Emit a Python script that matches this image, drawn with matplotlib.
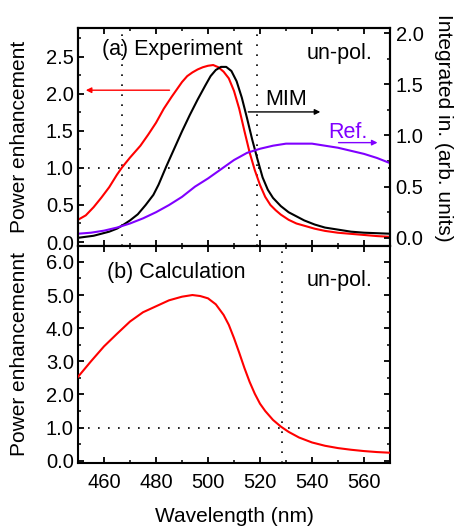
#!/usr/bin/env python3

import numpy as np
import matplotlib.pyplot as plt
from matplotlib.ticker import MultipleLocator, FormatStrFormatter

# ─── GLOBAL STYLE SETTINGS ────────────────────────────────────────────────
plt.rcParams.update({
    "font.family":       ["Liberation Sans", "DejaVu Sans"],
    "font.size":         15,
    "axes.linewidth":    1.5,
    "xtick.direction":   "in",
    "ytick.direction":   "in",
    "xtick.major.size":  4.5,
    "ytick.major.size":  4.5,
    "xtick.minor.size":  2.5,
    "ytick.minor.size":  2.5,
    "xtick.major.width": 1.3,
    "ytick.major.width": 1.3,
    "xtick.minor.width": 1.1,
    "ytick.minor.width": 1.1,
    "xtick.labelsize":   14.5,
    "ytick.labelsize":   14.5,
})

RED = "#ff0000"
PURPLE = "#8000ff"

# ─── DATA ─────────────────────────────────────────────────────────────────
# (a) measured power enhancement (left axis)
wl_enh = [450, 453, 456, 459, 462, 465, 467, 470, 474, 477, 480, 483, 486,
          488, 490, 492, 494, 496, 498, 500, 502, 504, 506, 508, 510, 512,
          514, 516, 518, 520, 522, 524, 526, 528, 531, 534, 537, 541, 545,
          550, 555, 560, 565, 570]
enh_exp = [0.30, 0.36, 0.47, 0.60, 0.74, 0.91, 1.01, 1.14, 1.30, 1.45, 1.61,
           1.80, 1.96, 2.06, 2.16, 2.24, 2.29, 2.33, 2.36, 2.38, 2.39, 2.36,
           2.30, 2.21, 2.04, 1.80, 1.50, 1.21, 0.97, 0.77, 0.61, 0.50, 0.43,
           0.37, 0.30, 0.25, 0.22, 0.18, 0.15, 0.125, 0.11, 0.095, 0.08, 0.07]

# (a) integrated intensity of MIM structure (right axis)
wl_mim = [450, 453, 456, 459, 462, 465, 467, 470, 473, 476, 479, 481, 484,
          487, 490, 493, 496, 499, 501, 503, 505, 507, 509, 511, 513, 515,
          517, 519, 521, 523, 525, 528, 531, 534, 537, 541, 545, 550, 555,
          560, 565, 570]
int_mim = [0.00, 0.01, 0.02, 0.04, 0.06, 0.09, 0.12, 0.17, 0.23, 0.32, 0.42,
           0.52, 0.70, 0.87, 1.04, 1.20, 1.35, 1.49, 1.58, 1.64, 1.67, 1.67,
           1.63, 1.53, 1.37, 1.17, 0.96, 0.77, 0.59, 0.47, 0.39, 0.31, 0.25,
           0.21, 0.17, 0.13, 0.10, 0.08, 0.06, 0.05, 0.045, 0.04]

# (a) integrated intensity of reference (right axis)
wl_ref = [450, 455, 460, 465, 470, 475, 480, 485, 490, 495, 500, 505, 510,
          515, 520, 525, 530, 535, 540, 545, 550, 555, 560, 565, 570]
int_ref = [0.04, 0.05, 0.07, 0.10, 0.14, 0.19, 0.25, 0.32, 0.40, 0.50, 0.58,
           0.67, 0.76, 0.83, 0.87, 0.90, 0.92, 0.92, 0.92, 0.90, 0.88, 0.85,
           0.82, 0.78, 0.73]

# (b) calculated power enhancement
wl_calc = [450, 455, 460, 465, 470, 475, 480, 485, 490, 494, 497, 500, 503,
           506, 508, 510, 512, 514, 516, 518, 520, 522, 525, 528, 531, 535,
           540, 545, 550, 555, 560, 565, 570]
enh_calc = [2.53, 3.00, 3.45, 3.83, 4.20, 4.48, 4.66, 4.84, 4.95, 5.00, 4.97,
            4.90, 4.72, 4.40, 4.10, 3.70, 3.26, 2.80, 2.38, 2.02, 1.72, 1.50,
            1.23, 1.03, 0.87, 0.70, 0.55, 0.45, 0.38, 0.33, 0.29, 0.26, 0.24]

# guide lines
vlines_a = [467, 519]
vline_b = 528.4

# ─── FIGURE ───────────────────────────────────────────────────────────────
fig = plt.figure(figsize=(4.55, 5.28), dpi=100)
W, H = 455, 528
ax_a = fig.add_axes([78 / W, 1 - 246 / H, 312 / W, 218 / H])
ax_b = fig.add_axes([78 / W, 1 - 463 / H, 312 / W, 217 / H], sharex=ax_a)
ax_r = ax_a.twinx()

dot = dict(color="black", lw=1.2, linestyle=(0, (1, 5)))

# ─── (a) EXPERIMENT ──────────────────────────────────────────────────────
ax_a.plot(wl_enh, enh_exp, color=RED, lw=1.5, zorder=3)
ax_r.plot(wl_mim, int_mim, color="black", lw=1.5)
ax_r.plot(wl_ref, int_ref, color=PURPLE, lw=1.5)
for x in vlines_a:
    ax_a.axvline(x, **dot)
ax_a.axhline(1.0, **dot)

ax_a.set_xlim(450, 570)
ax_a.set_ylim(-0.054, 2.89)
ax_r.set_ylim(-0.08, 2.05)
ax_a.yaxis.set_major_locator(MultipleLocator(0.5))
ax_a.yaxis.set_minor_locator(MultipleLocator(0.25))
ax_r.yaxis.set_major_locator(MultipleLocator(0.5))
ax_r.yaxis.set_minor_locator(MultipleLocator(0.25))
ax_a.yaxis.set_major_formatter(FormatStrFormatter("%.1f"))
ax_r.yaxis.set_major_formatter(FormatStrFormatter("%.1f"))
ax_a.tick_params(which="both", top=True, right=False, labelbottom=False,
                 pad=3)
ax_r.tick_params(which="both", pad=4)

ax_a.set_ylabel("Power enhancement")
ax_a.yaxis.set_label_coords(-0.156, 0.5)
ax_r.set_ylabel("Integrated in. (arb. units)", rotation=270, va="bottom")
ax_r.yaxis.set_label_coords(1.141, 0.543)

ax_a.text(0.076, 0.90, "(a) Experiment", transform=ax_a.transAxes,
          ha="left", va="center", fontsize=15.5)
ax_a.text(0.945, 0.885, "un-pol.", transform=ax_a.transAxes,
          ha="right", va="center", fontsize=15.5)

# arrows pointing to the axis each curve belongs to
ax_a.annotate("", xy=(453, 2.05), xytext=(485.2, 2.05),
              arrowprops=dict(arrowstyle="-|>", color=RED, lw=1.0,
                              mutation_scale=8, shrinkA=0, shrinkB=0))
ax_r.annotate("", xy=(543.2, 1.23), xytext=(515.5, 1.23),
              arrowprops=dict(arrowstyle="-|>", color="black", lw=1.0,
                              mutation_scale=8, shrinkA=0, shrinkB=0))
ax_r.text(529.9, 1.35, "MIM", ha="center", va="center", fontsize=15.5)
ax_r.annotate("", xy=(565.2, 0.93), xytext=(550.2, 0.93),
              arrowprops=dict(arrowstyle="-|>", color=PURPLE, lw=1.0,
                              mutation_scale=8, shrinkA=0, shrinkB=0))
ax_r.text(553.7, 1.03, "Ref.", color=PURPLE, ha="center", va="center",
          fontsize=15.5)

# ─── (b) CALCULATION ─────────────────────────────────────────────────────
ax_b.plot(wl_calc, enh_calc, color=RED, lw=1.5, zorder=3)
ax_b.axvline(vline_b, **dot)
ax_b.axhline(1.0, **dot)

ax_b.set_ylim(-0.07, 6.48)
ax_b.yaxis.set_major_locator(MultipleLocator(1.0))
ax_b.yaxis.set_minor_locator(MultipleLocator(0.5))
ax_b.yaxis.set_major_formatter(FormatStrFormatter("%.1f"))
ax_b.xaxis.set_major_locator(MultipleLocator(20))
ax_b.xaxis.set_minor_locator(MultipleLocator(10))
ax_b.tick_params(which="both", top=True, right=True, pad=3)
ax_b.tick_params(axis="x", pad=7)

ax_b.set_ylabel("Power enhancemennt")
ax_b.yaxis.set_label_coords(-0.156, 0.5)
ax_b.set_xlabel("Wavelength (nm)", labelpad=11)

ax_b.text(0.092, 0.88, "(b) Calculation", transform=ax_b.transAxes,
          ha="left", va="center", fontsize=15.5)
ax_b.text(0.945, 0.843, "un-pol.", transform=ax_b.transAxes,
          ha="right", va="center", fontsize=15.5)

fig.savefig("out.png", dpi=100)
